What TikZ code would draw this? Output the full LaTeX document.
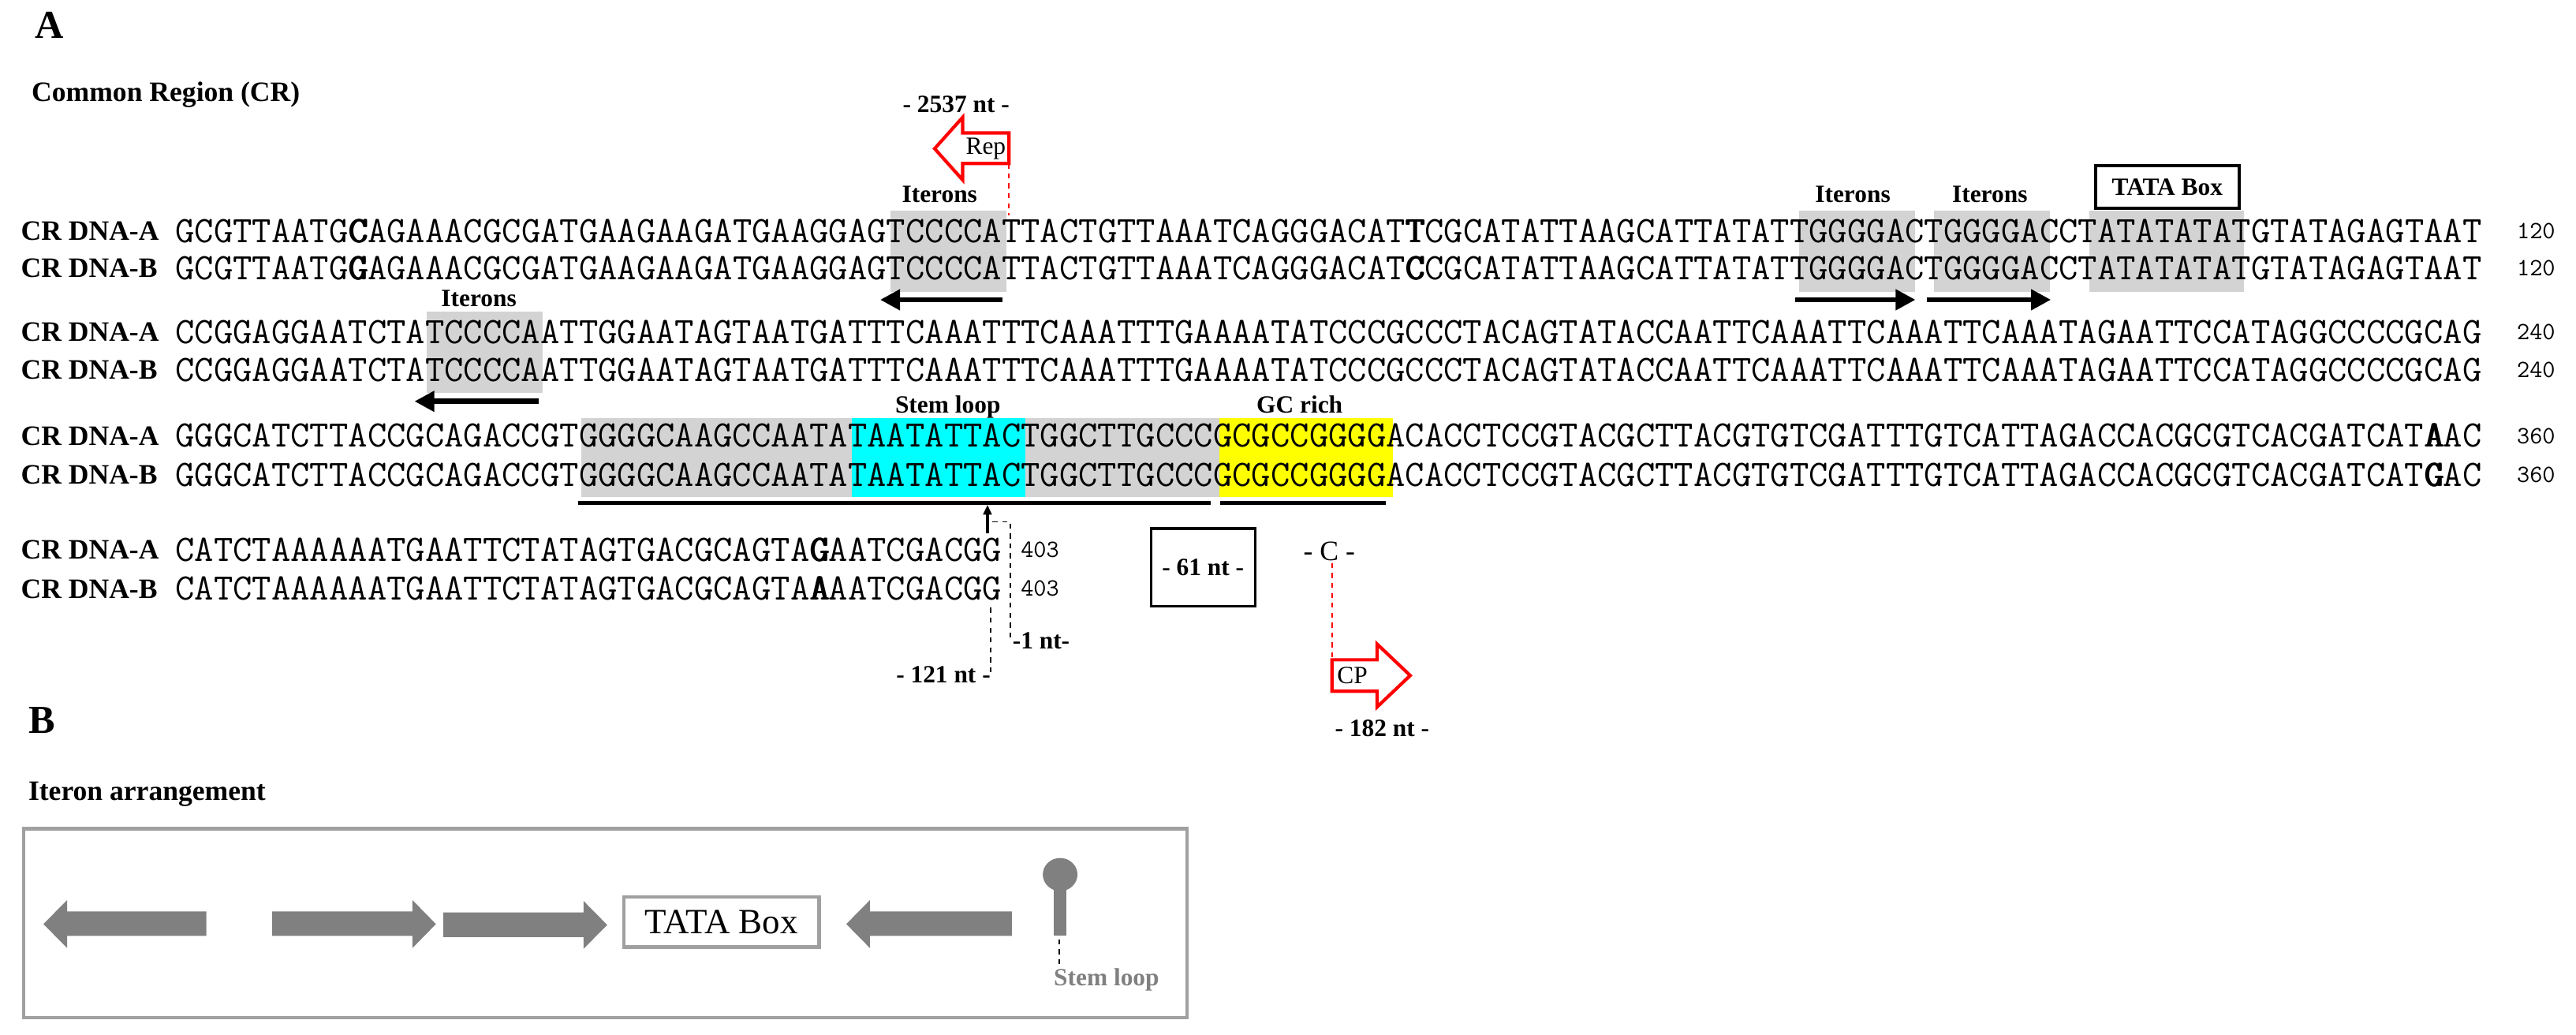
\documentclass[tikz,border=0pt]{standalone}
\usepackage{fontspec}
\setmainfont{Liberation Serif}
\usetikzlibrary{arrows.meta}
\newcommand\bld[1]{\rlap{\kern0.5pt#1}\rlap{\kern1pt#1}#1}
\definecolor{shadegray}{HTML}{D3D3D3}
\definecolor{darkg}{HTML}{808080}
\definecolor{boxg}{HTML}{A0A0A0}
\definecolor{aqua}{HTML}{00FFFF}
\definecolor{yel}{HTML}{FFFF00}
\begin{document}
\begin{tikzpicture}[x=1pt,y=-1pt,
  seq/.style={anchor=base west,inner sep=0,font=\fontsize{22.6}{22.6}\selectfont\ttfamily},
  lab/.style={anchor=base west,inner sep=0,font=\fontsize{17}{17}\selectfont\bfseries},
  num/.style={anchor=base west,inner sep=0,font=\fontsize{15}{15}\selectfont\ttfamily},
  small/.style={inner sep=0,font=\fontsize{15}{15}\selectfont\bfseries},
  itarrow/.style={line width=3.2pt,-{Triangle[length=12pt,width=12pt]}},
  redarrow/.style={draw=red,line width=2pt,fill=white,line join=miter},
  garrow/.style={fill=darkg,draw=none},
  reddash/.style={red,dashed,line width=0.8pt},
  blkdash/.style={black,dashed,line width=0.8pt}]
\useasboundingbox (0,0) rectangle (1560,626.66);
\def\cw{11.7075}
% shading
\fill[shadegray] ({106+37*\cw},127.4) rectangle ({106+43*\cw},176.7);
\fill[shadegray] ({106+84*\cw},127.4) rectangle ({106+90*\cw},176.7);
\fill[shadegray] ({106+91*\cw},127.4) rectangle ({106+97*\cw},176.7);
\fill[shadegray] ({106+99*\cw},127.4) rectangle ({106+107*\cw},176.7);
\fill[shadegray] ({106+13*\cw},188.6) rectangle ({106+19*\cw},237.7);
\fill[shadegray] ({106+21*\cw},253) rectangle ({106+35*\cw},301);
\fill[aqua] ({106+35*\cw},253) rectangle ({106+44*\cw},301);
\fill[shadegray] ({106+44*\cw},253) rectangle ({106+54*\cw},301);
\fill[yel] ({106+54*\cw},253) rectangle ({106+63*\cw},301);
% titles
\node[anchor=base west,inner sep=0,font=\fontsize{24}{24}\selectfont\bfseries] (tA) at (21,23) {A};
\node[lab] (tcr) at (19,61.5) {Common Region (CR)};
\node[anchor=base west,inner sep=0,font=\fontsize{24}{24}\selectfont\bfseries] (tB) at (17,444) {B};
\node[lab] (tit) at (17,484.5) {Iteron arrangement};
% row labels
\node[lab] (l1a) at (12.5,145.6) {CR DNA-A};
\node[lab] (l1b) at (12.5,168.1) {CR DNA-B};
\node[lab] (l2a) at (12.5,206.6) {CR DNA-A};
\node[lab] (l2b) at (12.5,229.6) {CR DNA-B};
\node[lab] (l3a) at (12.5,269.6) {CR DNA-A};
\node[lab] (l3b) at (12.5,293.1) {CR DNA-B};
\node[lab] (l4a) at (12.5,338.6) {CR DNA-A};
\node[lab] (l4b) at (12.5,362.1) {CR DNA-B};
% sequences
\node[seq] (s1a) at (106,146.8) {GCGTTAATG\bld{C}AGAAACGCGATGAAGAAGATGAAGGAGTCCCCATTACTGTTAAATCAGGGACAT\bld{T}CGCATATTAAGCATTATATTGGGGACTGGGGACCTATATATATGTATAGAGTAAT};
\node[seq] (s1b) at (106,169.3) {GCGTTAATG\bld{G}AGAAACGCGATGAAGAAGATGAAGGAGTCCCCATTACTGTTAAATCAGGGACAT\bld{C}CGCATATTAAGCATTATATTGGGGACTGGGGACCTATATATATGTATAGAGTAAT};
\node[seq] (s2a) at (106,207.8) {CCGGAGGAATCTATCCCCAATTGGAATAGTAATGATTTCAAATTTCAAATTTGAAAATATCCCGCCCTACAGTATACCAATTCAAATTCAAATTCAAATAGAATTCCATAGGCCCCGCAG};
\node[seq] (s2b) at (106,230.8) {CCGGAGGAATCTATCCCCAATTGGAATAGTAATGATTTCAAATTTCAAATTTGAAAATATCCCGCCCTACAGTATACCAATTCAAATTCAAATTCAAATAGAATTCCATAGGCCCCGCAG};
\node[seq] (s3a) at (106,270.8) {GGGCATCTTACCGCAGACCGTGGGGCAAGCCAATATAATATTACTGGCTTGCCCGCGCCGGGGACACCTCCGTACGCTTACGTGTCGATTTGTCATTAGACCACGCGTCACGATCAT\bld{A}AC};
\node[seq] (s3b) at (106,294.3) {GGGCATCTTACCGCAGACCGTGGGGCAAGCCAATATAATATTACTGGCTTGCCCGCGCCGGGGACACCTCCGTACGCTTACGTGTCGATTTGTCATTAGACCACGCGTCACGATCAT\bld{G}AC};
\node[seq] (s4a) at (106,339.8) {CATCTAAAAAATGAATTCTATAGTGACGCAGTA\bld{G}AATCGACGG};
\node[seq] (s4b) at (106,363.3) {CATCTAAAAAATGAATTCTATAGTGACGCAGTA\bld{A}AATCGACGG};
% numbers
\node[num] (n1a) at (1524,144.5) {120};
\node[num] (n1b) at (1524,167) {120};
\node[num] (n2a) at (1524,205.5) {240};
\node[num] (n2b) at (1524,228.5) {240};
\node[num] (n3a) at (1524,268.5) {360};
\node[num] (n3b) at (1524,292) {360};
\node[num] (n4a) at (618,337.5) {403};
\node[num] (n4b) at (618,361) {403};
% labels above
\node[small] (it1) at (569,117.8) {Iterons};
\node[small] (it2) at (1122,117.8) {Iterons};
\node[small] (it3) at (1205,117.8) {Iterons};
\node[small] (it4) at (290,180.6) {Iterons};
\node[small,draw,line width=2pt,minimum width=87pt,minimum height=25.7pt] (tata) at (1312.5,113.2) {TATA Box};
\node[small] (stl) at (574,246.6) {Stem loop};
\node[small] (gcr) at (787,245) {GC rich};
% iteron arrows
\coordinate (a1s) at (607,181.5); \coordinate (a1e) at (533,181.5);
\coordinate (a2s) at (1087,181.5); \coordinate (a2e) at (1160,181.5);
\coordinate (a3s) at (1167,181.5); \coordinate (a3e) at (1242,181.5);
\coordinate (a4s) at (326,243); \coordinate (a4e) at (251,243);
\draw[itarrow] (a1s) -- (a1e);
\draw[itarrow] (a2s) -- (a2e);
\draw[itarrow] (a3s) -- (a3e);
\draw[itarrow] (a4s) -- (a4e);
% underline
\coordinate (u1s) at (350,304.5); \coordinate (u1e) at (733,304.5);
\coordinate (u2s) at (739,304.5); \coordinate (u2e) at (839,304.5);
\draw[line width=2.5pt] (u1s) -- (u1e);
\draw[line width=2.5pt] (u2s) -- (u2e);
% Rep
\node[small] (nt2537) at (579,63) {- 2537 nt -};
\draw[redarrow] (611,80.5) -- (583,80.5) -- (583,71) -- (566,90) -- (583,109) -- (583,99) -- (611,99) -- cycle;
\node[inner sep=0,font=\fontsize{15}{15}\selectfont] (rep) at (597,90) {Rep};
\coordinate (repd1) at (611,99); \coordinate (repd2) at (611,130.5);
\draw[reddash] (repd1) -- (repd2);
% up arrow and dashes
\coordinate (up1) at (598,323); \coordinate (up2) at (598,305.6);
\draw[line width=1.6pt,-{Triangle[length=6pt,width=5pt]}] (up1) -- (up2);
\coordinate (d1) at (601,316); \coordinate (d2) at (612,316); \coordinate (d3) at (612,388);
\draw[blkdash] (d1) -- (d2) -- (d3);
\node[small,anchor=west] (nt1) at (613,388) {-1 nt-};
\coordinate (d4) at (600,368); \coordinate (d5) at (600,408.5);
\draw[blkdash] (d4) -- (d5);
\node[small,anchor=east] (nt121) at (600,408.5) {- 121 nt -};
% 61 nt
\node[small,draw,line width=1.5pt,minimum width=63pt,minimum height=47pt] (nt61) at (728.5,343.5) {- 61 nt -};
% C and CP
\node[inner sep=0,font=\fontsize{17}{17}\selectfont] (cc) at (805,334) {- C -};
\coordinate (cpd1) at (806.6,341); \coordinate (cpd2) at (806.6,399.5);
\draw[reddash] (cpd1) -- (cpd2);
\draw[redarrow] (806.6,399.5) -- (834,399.5) -- (834,390) -- (854,409) -- (834,428) -- (834,418.5) -- (806.6,418.5) -- cycle;
\node[inner sep=0,font=\fontsize{15}{15}\selectfont] (cp) at (819,409) {CP};
\node[small] (nt182) at (837,441) {- 182 nt -};
% panel B
\draw[boxg,line width=2pt] (14.3,501.8) rectangle (719,616.3);
\fill[garrow] (125,551.8) -- (40.6,551.8) -- (40.6,545) -- (26.3,559.5) -- (40.6,574) -- (40.6,566.7) -- (125,566.7) -- cycle;
\fill[garrow] (164.8,551.8) -- (249.8,551.8) -- (249.8,545) -- (264,559.5) -- (249.8,574) -- (249.8,566.7) -- (164.8,566.7) -- cycle;
\fill[garrow] (268.4,552.5) -- (353.4,552.5) -- (353.4,545.5) -- (367.7,560) -- (353.4,574.5) -- (353.4,567.4) -- (268.4,567.4) -- cycle;
\node[draw=boxg,line width=2pt,inner sep=0,minimum width=118pt,minimum height=30.4pt,font=\fontsize{21.5}{21.5}\selectfont] (tata2) at (437,558.2) {TATA Box};
\fill[garrow] (612.7,551.8) -- (526.8,551.8) -- (526.8,545) -- (512.5,559.5) -- (526.8,574) -- (526.8,566.7) -- (612.7,566.7) -- cycle;
\fill[darkg] (638,539) rectangle (646,566.7);
\fill[darkg] (642,529.5) ellipse [x radius=10.5, y radius=10];
\coordinate (sl1) at (641.5,568.8); \coordinate (sl2) at (641.5,584.3);
\draw[blkdash] (sl1) -- (sl2);
\node[small,anchor=west,text=darkg] (stl2) at (638,593) {Stem loop};
\end{tikzpicture}
\end{document}
